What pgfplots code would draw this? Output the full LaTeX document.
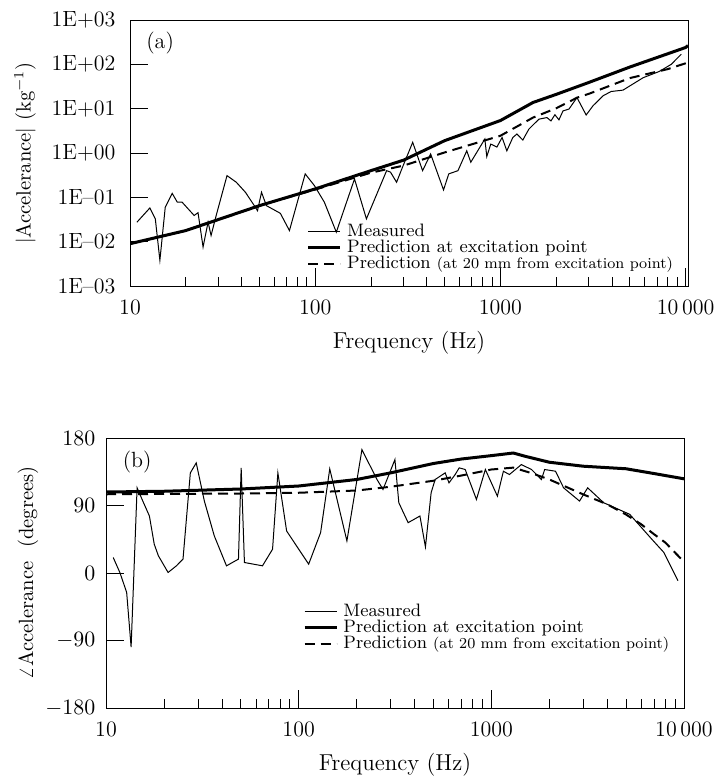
\documentclass[border=0pt]{standalone}
\usepackage{pgfplots}
\pgfplotsset{compat=1.18}

% measured and predicted accelerance, panel (a): magnitude
\pgfplotstableread{
f A
10.9 0.0275
12.8 0.0576
13.7 0.0327
14.5 0.0038
15.5 0.060
16.9 0.123
18.0 0.078
19.1 0.078
22.2 0.039
23.3 0.045
24.8 0.0076
26.4 0.0275
27.4 0.0138
29.2 0.039
33.4 0.309
37.5 0.219
42.0 0.130
46.9 0.065
48.8 0.050
51.3 0.130
54.5 0.065
64.8 0.0437
72.6 0.0178
88.3 0.338
99 0.184
112 0.078
130 0.0164
163 0.26
189 0.0327
243 0.40
255 0.37
275 0.219
296 0.478
336 1.74
380 0.40
420 0.95
493 0.147
526 0.338
590 0.40
658 1.12
692 0.62
824 2.07
844 0.83
887 1.59
957 1.36
1021 2.24
1083 1.12
1167 2.24
1227 2.68
1321 1.96
1425 3.47
1614 5.8
1782 6.3
1875 5.3
1969 7.3
2070 5.6
2177 8.9
2345 9.8
2590 17.8
2904 7.2
3160 11.6
3580 19.5
3960 24.4
4590 26.2
5900 50
7200 69
8360 100
9470 169
}\magmeas

\pgfplotstableread{
f A
10 0.0090
20 0.0178
50 0.065
100 0.155
200 0.40
300 0.69
500 1.9
1000 5.4
1500 13.8
2000 21
3000 39
5000 87
10000 240
10300 265
}\magexc

\pgfplotstableread{
f A
10 0.0090
20 0.0178
50 0.065
100 0.150
200 0.36
300 0.52
500 1.03
1000 2.45
1500 6.3
2000 10.2
2600 17.8
3000 21.6
5000 49
8000 78
10300 110
}\magdist

% panel (b): phase
\pgfplotstableread{
f P
10.9 20.7
11.8 0.7
12.8 -25.8
13.5 -98.8
14.5 113.6
15.4 98
16.8 76
17.8 38.4
18.7 23
21 0.7
23.2 9.6
25.1 18.5
27.4 133.5
29.4 146.8
32.4 95.9
36.5 49.4
42.2 9.6
48.7 18.5
50.3 140.2
52.3 14
64.9 9.6
73.2 31.7
78 133.5
86.6 56
112.7 11.8
130 53.9
145 138.8
178 42.8
213 164.5
255 124.7
274 111.4
316 151.2
331 93.7
370 67.1
426 76
455 34.8
487 107
511 124.7
576 133.5
603 120.2
649 131.3
681 140.2
732 138
837 98.1
931 138
1075 102.5
1155 135.7
1241 131.3
1432 144.6
1616 138
1820 124.7
1892 138
2154 135.7
2371 113.6
2870 95.9
3162 113.6
3830 93.7
5230 78.2
6810 45
7870 27.3
9310 -10.3
}\phmeas

\pgfplotstableread{
f P
10 108
20 109
50 112
100 116
200 124.7
300 133.5
500 146
700 152
1000 156.5
1300 160
1500 155.6
2000 147.7
3000 142.4
5000 139
7000 132.6
10000 125.6
}\phexc

\pgfplotstableread{
f P
10 105
50 106
100 107
200 110
300 115
500 123
700 130
1000 138
1300 140.5
1600 133.5
2000 124.7
3000 104.8
4000 91.5
5000 78
6000 64.9
7000 51.6
8000 40.6
9000 27
10000 14.9
}\phdist

\pgfplotsset{
  common/.style={
    scale only axis,
    xmin=10,
    xtick={10,100,1000,10000},
    xticklabels={10,100,1000,10\,000},
    xtick pos=left, ytick pos=left,
    major tick length=9pt,
    minor tick length=4.5pt,
    tick style={black, line width=0.4pt},
    tick label style={font=\fontsize{11}{13}\selectfont},
    xticklabel style={yshift=-3.2pt},
    xlabel style={font=\fontsize{11.5}{13}\selectfont},
    ylabel style={font=\fontsize{10.3}{12}\selectfont},
    xlabel={Frequency (Hz)},
    legend cell align=left,
    legend style={draw=none, fill=none, anchor=south east,
      font=\fontsize{9}{10}\selectfont, row sep=0pt,
      nodes={inner sep=0.2pt},
      /tikz/every odd column/.append style={column sep=2.5pt}},
    legend image code/.code={\draw[##1] (0pt,0pt) -- (16pt,0pt);},
  },
  meas/.style={black, line width=0.5pt},
  exc/.style={black, line width=1.5pt},
  dist/.style={black, line width=1pt, dash pattern=on 5pt off 3pt},
}

\begin{document}
\begin{tikzpicture}
\useasboundingbox (0pt,0pt) rectangle (359.5pt,-389pt);

\begin{loglogaxis}[
  common,
  at={(65pt,-10pt)}, anchor=north west,
  width=279pt, height=133pt,
  xmax=10300,
  ymin=1e-3, ymax=1e3,
  ytick={1e-3,1e-2,1e-1,1,10,100,1000},
  yticklabels={1E--03,1E--02,1E--01,1E+00,1E+01,1E+02,1E+03},
  yminorticks=false,
  yticklabel style={xshift=-3.8pt},
  ylabel={$|$Accelerance$|$ (kg$^{-1}$)},
  ylabel style={at={(axis description cs:-0.188,0.5)}, anchor=center},
  xlabel style={at={(axis description cs:0.5,-0.214)}, anchor=center},
  legend style={at={(0.985,0.035)}},
]
\addplot[meas] table[x=f, y=A] {\magmeas};
\addlegendentry{Measured}
\addplot[exc] table[x=f, y=A] {\magexc};
\addlegendentry{Prediction at excitation point}
\addplot[dist] table[x=f, y=A] {\magdist};
\addlegendentry{Prediction {\fontsize{7.6}{9}\selectfont(at 20 mm from excitation point)}}
\node[font=\fontsize{11}{13}\selectfont] at (rel axis cs:0.054,0.914) {(a)};
\end{loglogaxis}

\begin{semilogxaxis}[
  common,
  at={(53pt,-219pt)}, anchor=north west,
  width=289pt, height=135pt,
  xmax=10000,
  ymin=-180, ymax=180,
  ytick={-180,-90,0,90,180},
  yticklabel style={xshift=-1.8pt},
  ylabel={$\angle$Accelerance\ \ (degrees)},
  ylabel style={at={(axis description cs:-0.135,0.5)}, anchor=center},
  xlabel style={at={(axis description cs:0.5,-0.211)}, anchor=center},
  legend style={at={(0.986,0.19)}},
]
\addplot[meas] table[x=f, y=P] {\phmeas};
\addlegendentry{Measured}
\addplot[exc] table[x=f, y=P] {\phexc};
\addlegendentry{Prediction at excitation point}
\addplot[dist] table[x=f, y=P] {\phdist};
\addlegendentry{Prediction {\fontsize{7.6}{9}\selectfont(at 20 mm from excitation point)}}
\node[font=\fontsize{11}{13}\selectfont] at (rel axis cs:0.054,0.911) {(b)};
\end{semilogxaxis}
\end{tikzpicture}
\end{document}
